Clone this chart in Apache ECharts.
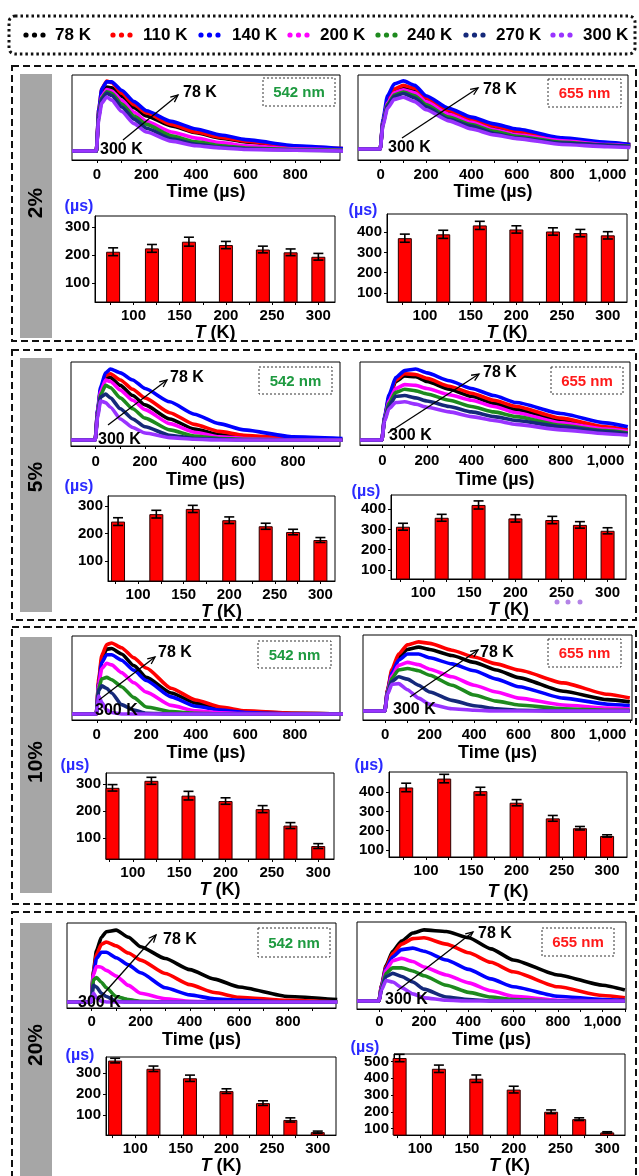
<!DOCTYPE html>
<html>
<head>
<meta charset="utf-8">
<script src="https://cdn.jsdelivr.net/npm/echarts@6/dist/echarts.min.js"></script>
<style>
  html, body { margin: 0; padding: 0; background: #fff; }
  #c { width: 639px; height: 1176px; }
</style>
</head>
<body>
<div id="c"></div>
<script>
// ---------- data ----------
const seriesNames = ['78 K', '110 K', '140 K', '200 K', '240 K', '270 K', '300 K'];
const seriesColors = ['#000000', '#ff0000', '#0000ff', '#ff00ff', '#1e8a1e', '#15297a', '#9933ff'];
const panelLabels = ['2%', '5%', '10%', '20%'];

// time grids (µs) for the 542 nm and 655 nm decay traces
const time542 = [-100, -2, 8, 20, 40, 60, 100, 150, 200, 300, 400, 500, 600, 800, 1000];
const time655 = [-100, -2, 10, 30, 60, 100, 150, 200, 300, 400, 500, 600, 800, 1000, 1100];

// decay intensities (a.u.), one row per temperature: 78,110,140,200,240,270,300 K
const decay2_542 = [
  [0, 0, 50, 75, 84, 83, 72, 57, 46, 33, 24, 17, 12, 5, 2],
  [0, 0, 55, 82, 92, 90, 76, 61, 50, 35, 25, 18, 13, 6, 3],
  [0, 0, 55, 82, 91, 91, 80, 65, 53, 39, 29, 21, 15, 7, 3],
  [0, 0, 48, 72, 81, 79, 67, 51, 39, 25, 17, 11, 7, 3, 1],
  [0, 0, 47, 70, 78, 76, 62, 46, 35, 20, 12, 7, 4, 2, 1],
  [0, 0, 46, 68, 76, 73, 58, 42, 30, 16, 9, 5, 3, 1, 0],
  [0, 0, 43, 63, 71, 67, 52, 36, 25, 13, 7, 4, 2, 1, 0]
];
const decay2_655 = [
  [0, 0, 37, 64, 79, 83, 79, 67, 50, 38, 29, 22, 12, 7, 5],
  [0, 0, 38, 66, 81, 86, 82, 69, 52, 40, 31, 24, 13, 8, 6],
  [0, 0, 40, 72, 88, 92, 86, 72, 55, 43, 34, 27, 15, 9, 6],
  [0, 0, 36, 62, 76, 80, 76, 64, 47, 36, 26, 19, 11, 6, 4],
  [0, 0, 35, 60, 73, 77, 72, 60, 43, 33, 24, 17, 9, 5, 4],
  [0, 0, 34, 58, 71, 75, 69, 57, 40, 31, 21, 15, 8, 5, 3],
  [0, 0, 32, 55, 67, 70, 64, 53, 38, 27, 19, 14, 6, 3, 2]
];
const decay5_542 = [
  [0, 0, 37, 64, 81, 80, 70, 57, 45, 27, 14, 7, 3, 1, 0],
  [0, 0, 38, 65, 83, 85, 77, 65, 54, 35, 20, 11, 6, 2, 1],
  [0, 0, 40, 68, 86, 91, 86, 77, 66, 49, 33, 21, 13, 4, 2],
  [0, 0, 36, 62, 77, 75, 64, 51, 39, 21, 10, 4, 2, 0, 0],
  [0, 0, 34, 58, 70, 67, 54, 40, 28, 13, 5, 2, 1, 0, 0],
  [0, 0, 32, 55, 59, 54, 40, 27, 17, 6, 2, 1, 0, 0, 0],
  [0, 0, 30, 50, 48, 42, 27, 16, 9, 3, 1, 0, 0, 0, 0]
];
const decay5_655 = [
  [0, 0, 28, 54, 75, 82, 81, 75, 65, 56, 47, 39, 26, 15, 11],
  [0, 0, 28, 55, 77, 85, 84, 79, 69, 60, 51, 43, 28, 17, 13],
  [0, 0, 30, 58, 80, 89, 91, 86, 76, 66, 57, 48, 34, 22, 17],
  [0, 0, 27, 50, 66, 71, 70, 66, 58, 51, 43, 35, 22, 14, 11],
  [0, 0, 26, 47, 61, 65, 63, 59, 51, 43, 36, 30, 19, 12, 9],
  [0, 0, 25, 44, 56, 57, 54, 50, 43, 36, 30, 25, 17, 11, 8],
  [0, 0, 24, 40, 48, 49, 46, 42, 36, 30, 25, 20, 13, 8, 6]
];
const decay10_542 = [
  [0, 0, 42, 70, 83, 84, 77, 62, 47, 27, 14, 6, 3, 1, 0],
  [0, 0, 45, 75, 89, 91, 85, 72, 59, 33, 18, 9, 4, 1, 0],
  [0, 0, 40, 66, 76, 76, 69, 56, 43, 22, 10, 5, 2, 0, 0],
  [0, 0, 38, 58, 65, 63, 53, 40, 28, 11, 4, 1.5, 0.5, 0, 0],
  [0, 0, 33, 45, 47, 44, 35, 21, 9, 3, 1, 0, 0, 0, 0],
  [0, 0, 30, 36, 33, 27, 12, 5, 1, 0, 0, 0, 0, 0, 0],
  [0, 0, 23, 15, 5, 2, 0, 0, 0, 0, 0, 0, 0, 0, 0]
];
const decay10_655 = [
  [0, 0, 27, 52, 71, 81, 84, 81, 73, 64, 54, 44, 26, 15, 12],
  [0, 0, 28, 55, 75, 87, 91, 89, 80, 71, 62, 54, 37, 22, 17],
  [0, 0, 26, 50, 67, 75, 75, 70, 62, 53, 42, 32, 17, 9, 7],
  [0, 0, 25, 46, 60, 64, 61, 55, 45, 34, 25, 17, 8, 4, 3],
  [0, 0, 24, 43, 54, 56, 53, 47, 34, 21, 13, 8, 3, 1, 1],
  [0, 0, 23, 39, 45, 42, 34, 25, 14, 7, 3, 1, 0, 0, 0],
  [0, 0, 22, 35, 36, 28, 17, 9, 3, 1, 0, 0, 0, 0, 0]
];
const decay20_542 = [
  [0, 0, 40, 65, 82, 89, 91, 82, 70, 55, 41, 29, 19, 7, 3],
  [0, 0, 38, 60, 73, 76, 71, 62, 53, 36, 22, 12, 6, 2, 0],
  [0, 0, 36, 55, 63, 63, 56, 47, 37, 18, 9, 4, 2, 0, 0],
  [0, 0, 35, 45, 44, 40, 33, 21, 11, 4, 1, 0, 0, 0, 0],
  [0, 0, 28, 31, 25, 18, 7, 3, 1, 0, 0, 0, 0, 0, 0],
  [0, 0, 21, 19, 11, 7, 1, 0, 0, 0, 0, 0, 0, 0, 0],
  [0, 0, 11, 5, 1, 0, 0, 0, 0, 0, 0, 0, 0, 0, 0]
];
const decay20_655 = [
  [0, 0, 20, 45, 63, 76, 86, 90, 88, 80, 66, 52, 33, 20, 14],
  [0, 0, 19, 43, 60, 72, 79, 80, 72, 61, 49, 37, 18, 7, 4],
  [0, 0, 18, 41, 56, 65, 67, 63, 52, 40, 28, 18, 6, 2, 1],
  [0, 0, 17, 39, 51, 54, 50, 43, 33, 23, 13, 6, 1, 0, 0],
  [0, 0, 16, 35, 42, 42, 38, 32, 20, 11, 5, 2, 0, 0, 0],
  [0, 0, 15, 31, 35, 31, 24, 15, 5, 2, 0, 0, 0, 0, 0],
  [0, 0, 14, 26, 24, 17, 9, 4, 1, 0, 0, 0, 0, 0, 0]
];

// lifetimes (µs) vs temperature (K)
const barTemps = [78, 120, 160, 200, 240, 270, 300];
const tau2_542 = [212, 224, 248, 236, 220, 210, 194];
const err2_542 = [14, 14, 16, 13, 12, 12, 12];
const tau2_655 = [370, 389, 433, 413, 403, 395, 384];
const err2_655 = [20, 20, 20, 18, 18, 18, 18];
const tau5_542 = [243, 270, 289, 248, 226, 205, 176];
const err5_542 = [14, 14, 13, 12, 11, 10, 9];
const tau5_655 = [313, 357, 420, 354, 346, 322, 293];
const err5_655 = [17, 17, 20, 18, 18, 16, 15];
const tau10_542 = [286, 312, 257, 237, 207, 146, 70];
const err10_542 = [12, 13, 16, 12, 13, 11, 9];
const tau10_655 = [424, 470, 405, 345, 264, 213, 173];
const err10_655 = [22, 22, 20, 16, 15, 9, 6];
const tau20_542 = [360, 321, 276, 215, 158, 78, 20];
const err20_542 = [11, 13, 15, 11, 11, 10, 5];
const tau20_655 = [520, 456, 397, 332, 200, 156, 77];
const err20_655 = [22, 22, 22, 20, 11, 8, 4];

// axis tick values
const timeLabels = [0, 200, 400, 600, 800, 1000];
const timeTicks = [0, 100, 200, 300, 400, 500, 600, 700, 800, 900, 1000, 1100];
const tempLabels = [100, 150, 200, 250, 300];
const tempTicks = [75, 100, 125, 150, 175, 200, 225, 250, 275, 300];
const tauLabels3 = [100, 200, 300];
const tauLabels4 = [100, 200, 300, 400];
const tauLabels5 = [100, 200, 300, 400, 500];

// ---------- layout ----------
const FONT = 'Liberation Sans, Arial, Helvetica, sans-serif';
const decayPlots = [
  { box: [72, 75, 268, 85], x: [-100, 980], yMin: -11.8, t: time542, d: decay2_542, band: '542 nm', margin: 7, gap: 22,
    nm: [263, 78, 72, 28], arrow: [123, 140, 178, 95], l78: [183, 93], l300: [100, 150] },
  { box: [358, 75, 270, 85], x: [-100, 1090], yMin: -14.9, t: time655, d: decay2_655, band: '655 nm', margin: 7, gap: 23,
    nm: [548, 79, 73, 28], arrow: [402, 138, 478, 88], l78: [483, 90], l300: [388, 148] },
  { box: [71, 362, 269, 84], x: [-100, 990], yMin: -7.7, t: time542, d: decay5_542, band: '542 nm', margin: 8, gap: 25,
    nm: [259, 367, 73, 27], arrow: [108, 425, 167, 380], l78: [170, 378], l300: [98, 440] },
  { box: [360, 362, 270, 83], x: [-100, 1110], yMin: -6.4, t: time655, d: decay5_655, band: '655 nm', margin: 8, gap: 26,
    nm: [551, 367, 72, 27], arrow: [388, 433, 479, 374], l78: [483, 373], l300: [389, 436] },
  { box: [72, 636, 268, 84], x: [-100, 982], yMin: -7.7, t: time542, d: decay10_542, band: '542 nm', margin: 7, gap: 24,
    nm: [258, 641, 73, 27], arrow: [99, 700, 155, 657], l78: [158, 653], l300: [95, 711] },
  { box: [363, 635, 269, 85], x: [-100, 1110], yMin: -11.8, t: time655, d: decay10_655, band: '655 nm', margin: 7, gap: 24,
    nm: [548, 639, 73, 28], arrow: [410, 697, 478, 650], l78: [480, 653], l300: [393, 710] },
  { box: [67, 923, 269, 85], x: [-100, 995], yMin: -7.6, t: time542, d: decay20_542, band: '542 nm', margin: 6, gap: 23,
    nm: [258, 928, 72, 29], arrow: [98, 1000, 156, 935], l78: [163, 940], l300: [78, 1003] },
  { box: [357, 922, 269, 87], x: [-100, 1105], yMin: -10.1, t: time655, d: decay20_655, band: '655 nm', margin: 5, gap: 22,
    nm: [542, 928, 72, 28], arrow: [397, 991, 473, 932], l78: [478, 934], l300: [385, 1000] }
];

const barPlots = [
  { box: [95, 216, 240, 86], x: [58.4, 318], y: [32, 340], yl: tauLabels3, v: tau2_542, e: err2_542, gap: 21, unit: [79, 207] },
  { box: [387, 214, 240, 88], x: [58.5, 321], y: [56, 489], yl: tauLabels4, v: tau2_655, e: err2_655, gap: 21, unit: [363, 211] },
  { box: [108, 496, 227, 85], x: [67, 316], y: [27, 336], yl: tauLabels3, v: tau5_542, e: err5_542, gap: 16, unit: [79, 487] },
  { box: [391, 495, 235, 84], x: [65, 320], y: [56, 469], yl: tauLabels4, v: tau5_655, e: err5_655, gap: 20, unit: [366, 492] },
  { box: [106, 773, 228, 86], x: [71, 317], y: [22, 341], yl: tauLabels3, v: tau10_542, e: err10_542, gap: 20, unit: [75, 766] },
  { box: [389, 772, 238, 85], x: [59, 322], y: [64, 504], yl: tauLabels4, v: tau10_655, e: err10_655, gap: 26, unit: [369, 766] },
  { box: [106, 1057, 230, 87], x: [68, 320], y: [6, 377], yl: tauLabels3, v: tau20_542, e: err20_542, gap: 17, unit: [80, 1056] },
  { box: [394, 1054, 231, 87], x: [72, 319], y: [61, 544], yl: tauLabels5, v: tau20_655, e: err20_655, gap: 20, unit: [365, 1048] }
];

const panelFrames = [[12, 66, 624, 275], [12, 350, 624, 270], [12, 627, 624, 277], [12, 912, 624, 290]];
const sideBars = [[20, 74, 32, 264], [20, 358, 32, 254], [20, 637, 32, 256], [20, 923, 32, 260]];
const sideLabelY = [203, 477, 762, 1045];

// ---------- build ----------
const grids = [], xAxes = [], yAxes = [], series = [], graphics = [];
const boldText = (size, color) => ({ color: color || '#000', fontWeight: 'bold', fontSize: size, fontFamily: FONT });

decayPlots.forEach(p => {
  const gi = grids.length;
  grids.push({ left: p.box[0], top: p.box[1], width: p.box[2], height: p.box[3],
    show: true, borderColor: '#000', borderWidth: 1, backgroundColor: 'transparent' });
  xAxes.push({
    gridIndex: gi, type: 'value', min: p.x[0], max: p.x[1],
    axisLine: { onZero: false, lineStyle: { color: '#000', width: 1 } },
    axisTick: { customValues: timeTicks, length: 3, lineStyle: { color: '#000' } },
    axisLabel: Object.assign({ customValues: timeLabels, margin: p.margin,
      formatter: v => Number(v).toLocaleString('en-US') }, boldText(15)),
    splitLine: { show: false },
    name: 'Time (µs)', nameLocation: 'middle', nameGap: p.gap, nameTextStyle: boldText(18)
  });
  yAxes.push({ gridIndex: gi, type: 'value', min: p.yMin, max: 100, show: false, splitLine: { show: false } });
  p.d.forEach((vals, k) => {
    series.push({
      type: 'line', name: seriesNames[k], xAxisIndex: gi, yAxisIndex: gi,
      data: p.t.map((t, j) => [t, vals[j]]),
      showSymbol: false, smooth: 0.2, smoothMonotone: 'x', clip: true, silent: true,
      lineStyle: { color: seriesColors[k], width: 3.6, join: 'round' }, itemStyle: { color: seriesColors[k] }, z: 2
    });
  });

  // wavelength tag
  graphics.push({ type: 'rect', shape: { x: p.nm[0], y: p.nm[1], width: p.nm[2], height: p.nm[3] },
    style: { fill: '#fff', stroke: '#333', lineWidth: 1, lineDash: [2, 2] }, z: 20 });
  graphics.push({ type: 'text', x: p.nm[0] + p.nm[2] / 2, y: p.nm[1] + p.nm[3] / 2 + 1, z: 21,
    style: { text: p.band, align: 'center', verticalAlign: 'middle',
      fill: p.band === '542 nm' ? '#1e9a40' : '#ff1a1a', font: 'bold 15px ' + FONT } });

  // temperature arrow and end labels
  const [x1, y1, x2, y2] = p.arrow;
  const a = Math.atan2(y2 - y1, x2 - x1), L = 8, s = 0.42;
  graphics.push({ type: 'line', shape: { x1, y1, x2, y2 }, style: { stroke: '#000', lineWidth: 1.3 }, z: 20 });
  graphics.push({ type: 'polyline', z: 20,
    shape: { points: [[x2 - L * Math.cos(a - s), y2 - L * Math.sin(a - s)], [x2, y2], [x2 - L * Math.cos(a + s), y2 - L * Math.sin(a + s)]] },
    style: { stroke: '#000', lineWidth: 1.3, fill: null } });
  graphics.push({ type: 'text', x: p.l78[0], y: p.l78[1], z: 21,
    style: { text: '78 K', align: 'left', verticalAlign: 'middle', fill: '#000', font: 'bold 16px ' + FONT } });
  graphics.push({ type: 'text', x: p.l300[0], y: p.l300[1], z: 21,
    style: { text: '300 K', align: 'left', verticalAlign: 'middle', fill: '#000', font: 'bold 16px ' + FONT } });
});

barPlots.forEach(b => {
  const gi = grids.length;
  grids.push({ left: b.box[0], top: b.box[1], width: b.box[2], height: b.box[3],
    show: true, borderColor: '#000', borderWidth: 1, backgroundColor: 'transparent' });
  xAxes.push({
    gridIndex: gi, type: 'value', min: b.x[0], max: b.x[1],
    axisLine: { onZero: false, lineStyle: { color: '#000', width: 1 } },
    axisTick: { customValues: tempTicks, length: 3, lineStyle: { color: '#000' } },
    axisLabel: Object.assign({ customValues: tempLabels, margin: 6 }, boldText(15)),
    splitLine: { show: false },
    name: '{it|T} (K)', nameLocation: 'middle', nameGap: b.gap,
    nameTextStyle: Object.assign(boldText(18), { rich: { it: Object.assign(boldText(18), { fontStyle: 'italic' }) } })
  });
  yAxes.push({
    gridIndex: gi, type: 'value', min: b.y[0], max: b.y[1],
    axisLine: { onZero: false, lineStyle: { color: '#000', width: 1 } },
    axisTick: { customValues: b.yl, length: 3, lineStyle: { color: '#000' } },
    axisLabel: Object.assign({ customValues: b.yl, margin: 5 }, boldText(15)),
    splitLine: { show: false }
  });
  series.push({
    type: 'bar', xAxisIndex: gi, yAxisIndex: gi, barWidth: 14, clip: true, silent: true,
    data: barTemps.map((t, k) => [t, b.v[k]]),
    itemStyle: { color: '#ff0000', borderColor: '#2a0000', borderWidth: 1 }, z: 3
  });
  series.push({
    type: 'custom', xAxisIndex: gi, yAxisIndex: gi, silent: true, z: 4,
    data: barTemps.map((t, k) => [t, b.v[k] - b.e[k], b.v[k] + b.e[k]]),
    renderItem: (params, api) => {
      const lo = api.coord([api.value(0), api.value(1)]);
      const hi = api.coord([api.value(0), api.value(2)]);
      const w = 5, st = { stroke: '#000', lineWidth: 1.6 };
      return { type: 'group', children: [
        { type: 'line', shape: { x1: lo[0], y1: lo[1], x2: hi[0], y2: hi[1] }, style: st },
        { type: 'line', shape: { x1: hi[0] - w, y1: hi[1], x2: hi[0] + w, y2: hi[1] }, style: st },
        { type: 'line', shape: { x1: lo[0] - w, y1: lo[1], x2: lo[0] + w, y2: lo[1] }, style: st }
      ] };
    }
  });
  graphics.push({ type: 'text', x: b.unit[0], y: b.unit[1], z: 21,
    style: { text: '(µs)', align: 'center', verticalAlign: 'middle', fill: '#2a2aff', font: 'bold 16px ' + FONT } });
});

// panel frames, grey side bars and concentration labels
panelFrames.forEach(f => graphics.push({ type: 'rect', z: 1,
  shape: { x: f[0], y: f[1], width: f[2], height: f[3] },
  style: { fill: null, stroke: '#111', lineWidth: 2, lineDash: [7, 4] } }));
sideBars.forEach((r, i) => {
  graphics.push({ type: 'rect', z: 1, shape: { x: r[0], y: r[1], width: r[2], height: r[3] }, style: { fill: '#a6a6a6' } });
  graphics.push({ type: 'text', z: 2, x: r[0] + r[2] / 2, y: sideLabelY[i], rotation: Math.PI / 2,
    style: { text: panelLabels[i], align: 'center', verticalAlign: 'middle', fill: '#000', font: 'bold 21px ' + FONT } });
});

// small purple dots under the 5 % / 655 nm temperature axis
[557, 568, 580].forEach(x => graphics.push({ type: 'circle', z: 5, shape: { cx: x, cy: 602, r: 2.5 }, style: { fill: '#b383e6' } }));

// legend
graphics.push({ type: 'rect', z: 1, shape: { x: 9, y: 16, width: 626, height: 38, r: 6 },
  style: { fill: null, stroke: '#111', lineWidth: 3, lineDash: [2.5, 3] } });
const legendDotX = [26, 113, 201, 290, 378, 466, 553];
const legendTextX = [55, 143, 232, 320, 407, 496, 583];
seriesNames.forEach((n, i) => {
  for (let j = 0; j < 3; j++) {
    graphics.push({ type: 'circle', z: 5, shape: { cx: legendDotX[i] + j * 8.5, cy: 35, r: 2.6 }, style: { fill: seriesColors[i] } });
  }
  graphics.push({ type: 'text', z: 5, x: legendTextX[i], y: 35,
    style: { text: n, align: 'left', verticalAlign: 'middle', fill: '#000', font: 'bold 17px ' + FONT } });
});

const chart = echarts.init(document.getElementById('c'), null, { renderer: 'canvas' });
chart.setOption({
  animation: false,
  backgroundColor: '#ffffff',
  grid: grids,
  xAxis: xAxes,
  yAxis: yAxes,
  series: series,
  graphic: { elements: graphics }
});
</script>
</body>
</html>
